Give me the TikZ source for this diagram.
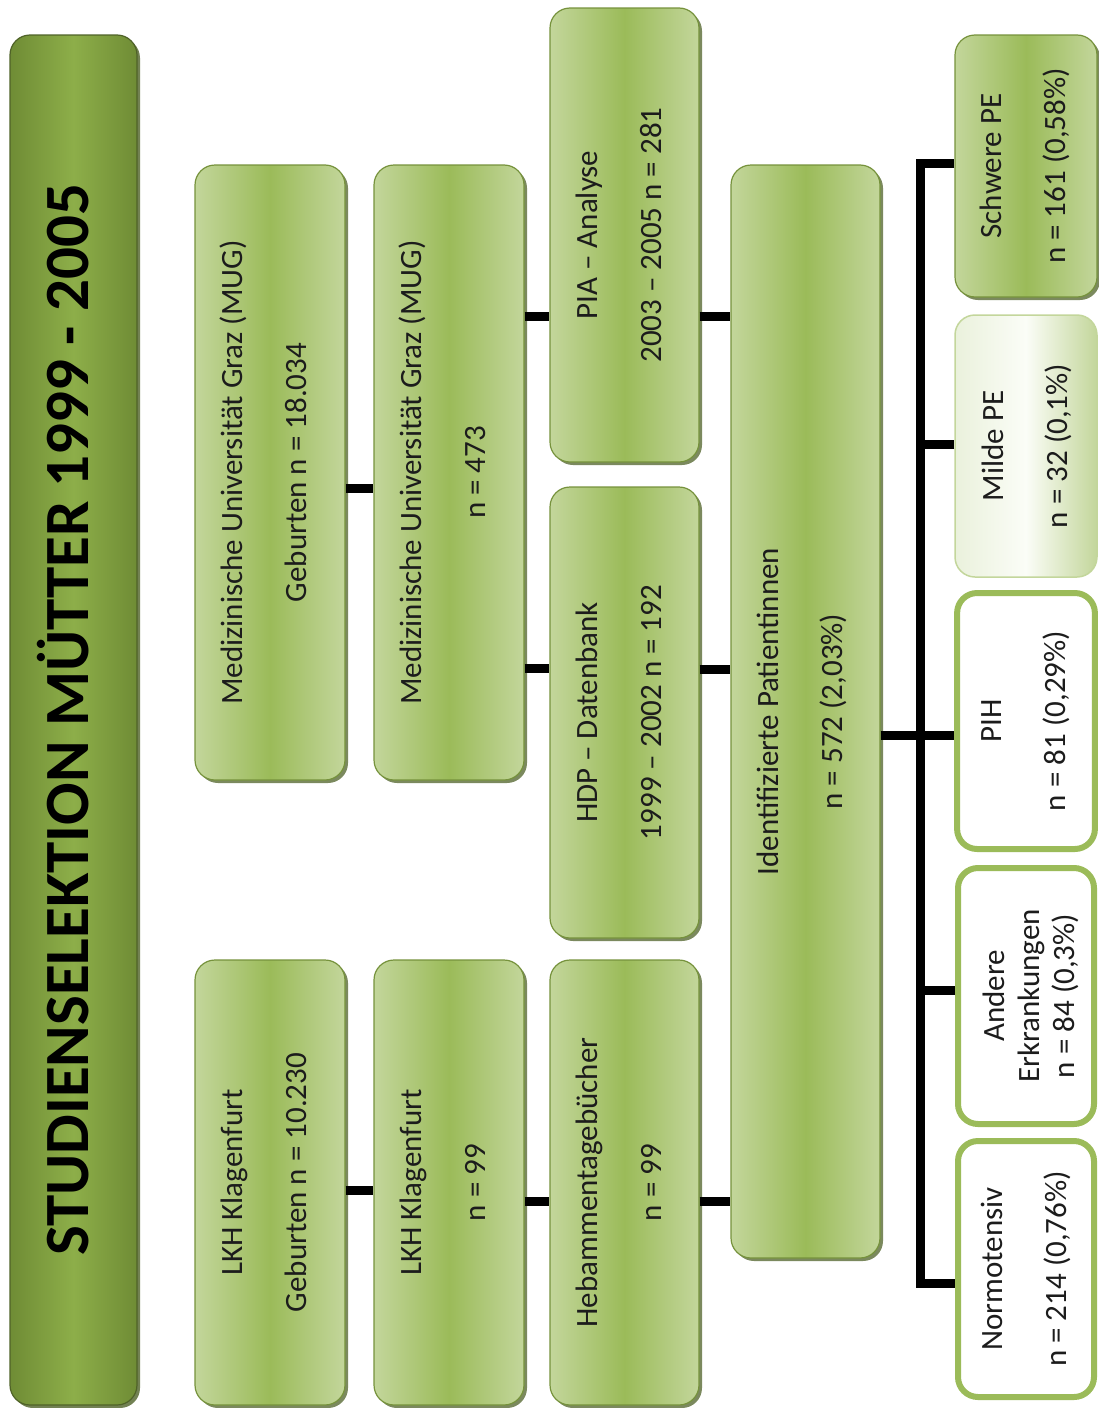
\documentclass[tikz,border=0pt]{standalone}
\usepackage{fontspec}
\setmainfont{Carlito}
\usepackage{graphicx}
\usetikzlibrary{shadows}
\definecolor{gLight}{HTML}{C3D69B}
\definecolor{gMid}{HTML}{9BBB59}
\definecolor{gDark}{HTML}{76923C}
\definecolor{gDeep}{HTML}{4F6228}
\definecolor{tEdge}{HTML}{6F8C35}
\definecolor{tMid}{HTML}{8DAE49}
\definecolor{mLeft}{HTML}{EAF1DC}
\definecolor{mMid}{HTML}{FBFDF7}
\definecolor{txt}{HTML}{1C1C1C}
\newcommand{\vtext}[2][35pt]{\rotatebox{90}{\begin{tabular}{@{}c@{}}#2\rule[-#1]{0pt}{#1}\end{tabular}}}
\begin{document}
\begin{tikzpicture}[x=1pt,y=-1pt,
  gbox/.style={draw=gDark, line width=1.2pt, rounded corners=20pt,
    left color=gLight, right color=gLight, middle color=gMid,
    inner sep=0pt, text=txt, font=\fontsize{31}{64}\selectfont,
    drop shadow={shadow xshift=3pt, shadow yshift=-3pt, fill=gDeep, opacity=.75}},
  tbox/.style={draw=gDeep, line width=1.2pt, rounded corners=20pt,
    left color=tEdge, right color=tEdge, middle color=tMid,
    inner sep=0pt, text=black, font=\bfseries\fontsize{63}{70}\selectfont,
    drop shadow={shadow xshift=3pt, shadow yshift=-3pt, fill=gDeep, opacity=.8}},
  mbox/.style={draw=gLight, line width=1.5pt, rounded corners=20pt,
    left color=mLeft, right color=gLight, middle color=mMid,
    inner sep=0pt, text=txt, font=\fontsize{31}{64}\selectfont},
  wbox/.style={draw=gMid, line width=6pt, rounded corners=20pt, fill=white,
    inner sep=0pt, text=txt, font=\fontsize{31}{64}\selectfont},
  conn/.style={line width=9pt, black, line join=miter}]
\useasboundingbox (0,0) rectangle (1099,1408);

% title
\node[tbox, minimum width=127pt, minimum height=1370pt] (title) at (73.5,720)
  {\vtext[0pt]{STUDIENSELEKTION MÜTTER 1999 - 2005}};

% column 1
\node[gbox, minimum width=150pt, minimum height=615pt] (mug1) at (270,472.5)
  {\vtext{Medizinische Universität Graz (MUG)\\Geburten n = 18.034}};
\node[gbox, minimum width=150pt, minimum height=445pt] (lkh1) at (270,1182.5)
  {\vtext{LKH Klagenfurt\\Geburten n = 10.230}};
% column 2
\node[gbox, minimum width=150pt, minimum height=615pt] (mug2) at (449,472.5)
  {\vtext{Medizinische Universität Graz (MUG)\\n = 473}};
\node[gbox, minimum width=150pt, minimum height=445pt] (lkh2) at (449,1182.5)
  {\vtext{LKH Klagenfurt\\n = 99}};
% column 3
\node[gbox, minimum width=149pt, minimum height=454pt] (pia) at (624.5,235)
  {\vtext{PIA – Analyse\\2003 – 2005 n = 281}};
\node[gbox, minimum width=149pt, minimum height=451pt] (hdp) at (624.5,712.5)
  {\vtext{HDP – Datenbank\\1999 – 2002 n = 192}};
\node[gbox, minimum width=149pt, minimum height=445pt] (heb) at (624.5,1182.5)
  {\vtext{Hebammentagebücher\\n = 99}};
% column 4
\node[gbox, minimum width=149pt, minimum height=1093pt] (ident) at (805.5,711.5)
  {\vtext{Identifizierte Patientinnen\\n = 572 (2,03\%)}};
% column 5
\node[gbox, minimum width=142pt, minimum height=262pt] (sch) at (1026,166)
  {\vtext[29pt]{Schwere PE\\n = 161 (0,58\%)}};
\node[mbox, minimum width=142pt, minimum height=262pt] (mild) at (1026,446)
  {\vtext[25pt]{Milde PE\\n = 32 (0,1\%)}};
\node[wbox, minimum width=136pt, minimum height=256pt] (pih) at (1026,721)
  {\vtext[29pt]{PIH\\n = 81 (0,29\%)}};
\node[wbox, minimum width=136pt, minimum height=256pt, font=\fontsize{31}{35}\selectfont] (and) at (1026,996)
  {\vtext[10.5pt]{\rule{0pt}{38pt}Andere\\Erkrankungen\\n = 84 (0,3\%)}};
\node[wbox, minimum width=136pt, minimum height=256pt] (norm) at (1026,1269)
  {\vtext[27pt]{Normotensiv\\n = 214 (0,76\%)}};

\coordinate (bus) at (920,735);

% connectors
\draw[conn] (mug1.east |- 0,488) -- (mug2.west |- 0,488);
\draw[conn] (lkh1.east |- 0,1190) -- (lkh2.west |- 0,1190);
\draw[conn] (mug2.east |- 0,316) -- (pia.west |- 0,316);
\draw[conn] (mug2.east |- 0,668) -- (hdp.west |- 0,668);
\draw[conn] (lkh2.east |- 0,1201) -- (heb.west |- 0,1201);
\draw[conn] (pia.east |- 0,316) -- (ident.west |- 0,316);
\draw[conn] (hdp.east |- 0,669) -- (ident.west |- 0,669);
\draw[conn] (heb.east |- 0,1201) -- (ident.west |- 0,1201);
\draw[conn] (ident.east |- 0,735) -- (pih.west |- 0,735);
\draw[conn] (sch.west |- 0,163) -| (bus) |- (norm.west |- 0,1283);
\draw[conn] (mild.west |- 0,444) -- (bus |- 0,444);
\draw[conn] (and.west |- 0,990) -- (bus |- 0,990);
\end{tikzpicture}
\end{document}
